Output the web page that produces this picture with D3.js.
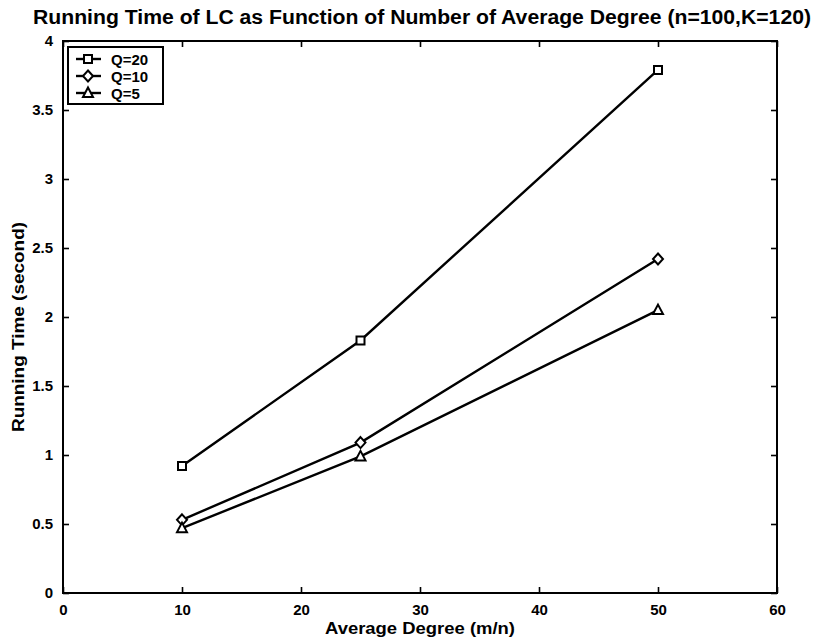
<!DOCTYPE html>
<html>
<head>
<meta charset="utf-8">
<script src="https://cdn.jsdelivr.net/npm/d3@7"></script>
<style>
  body { margin: 0; background: #fff; }
  text { font-family: "Liberation Sans", Arial, sans-serif; font-weight: bold; fill: #000; }
</style>
</head>
<body>
<script>
// average degree (m/n) on the x axis
var degrees = [10, 25, 50];
// running time in seconds for each Q
var timeQ20 = [0.92, 1.83, 3.79];
var timeQ10 = [0.53, 1.09, 2.42];
var timeQ5 = [0.47, 0.99, 2.05];
var seriesNames = ["Q=20", "Q=10", "Q=5"];
var xTicks = [0, 10, 20, 30, 40, 50, 60];
var yTicks = [0, 0.5, 1, 1.5, 2, 2.5, 3, 3.5, 4];

var w = 817, h = 642;
var margin = {left: 63, right: 40, top: 41, bottom: 49};
var pw = w - margin.left - margin.right;
var ph = h - margin.top - margin.bottom;

var series = [
  {name: seriesNames[0], values: timeQ20, marker: "square"},
  {name: seriesNames[1], values: timeQ10, marker: "diamond"},
  {name: seriesNames[2], values: timeQ5, marker: "triangle"}
];

var xScale = d3.scaleLinear().domain([0, 60]).range([0, pw]);
var yScale = d3.scaleLinear().domain([0, 4]).range([ph, 0]);

var svg = d3.select("body").append("svg")
  .attr("width", w)
  .attr("height", h);

svg.append("text")
  .attr("x", 422)
  .attr("y", 24)
  .attr("text-anchor", "middle")
  .attr("font-size", 20)
  .attr("textLength", 778)
  .attr("lengthAdjust", "spacingAndGlyphs")
  .text("Running Time of LC as Function of Number of Average Degree (n=100,K=120)");

var graph = svg.append("g")
  .attr("transform", "translate(" + margin.left + "," + margin.top + ")");

// matlab-style box with inward ticks on all four sides
function styleAxis(g) {
  g.attr("font-size", null).attr("font-family", null);
  g.select(".domain").remove();
  g.selectAll(".tick line").attr("stroke", "#000").attr("stroke-width", 1.6);
  g.selectAll(".tick text").style("font-size", "15px");
}

graph.append("g")
  .attr("transform", "translate(0," + ph + ")")
  .call(d3.axisBottom(xScale).tickValues(xTicks).tickSizeInner(-6).tickSizeOuter(0).tickPadding(11))
  .call(styleAxis);

graph.append("g")
  .call(d3.axisTop(xScale).tickValues(xTicks).tickSizeInner(-6).tickSizeOuter(0).tickFormat(""))
  .call(styleAxis);

graph.append("g")
  .call(d3.axisLeft(yScale).tickValues(yTicks).tickSizeInner(-6).tickSizeOuter(0).tickPadding(10).tickFormat(d3.format("")))
  .call(styleAxis);

graph.append("g")
  .attr("transform", "translate(" + pw + ",0)")
  .call(d3.axisRight(yScale).tickValues(yTicks).tickSizeInner(-6).tickSizeOuter(0).tickFormat(""))
  .call(styleAxis);

graph.append("rect")
  .attr("x", 0).attr("y", 0)
  .attr("width", pw).attr("height", ph)
  .attr("fill", "none")
  .attr("stroke", "#000")
  .attr("stroke-width", 2);

var line = d3.line()
  .x(function(d, i) { return xScale(degrees[i]); })
  .y(function(d) { return yScale(d); });

function markerPath(type) {
  if (type === "square") return "M-4,-4H4V4H-4Z";
  if (type === "diamond") return "M0,-5.5L5,0L0,5.5L-5,0Z";
  return "M0,-5.5L5,4L-5,4Z";
}

series.forEach(function(s) {
  graph.append("path")
    .datum(s.values)
    .attr("d", line)
    .attr("fill", "none")
    .attr("stroke", "#000")
    .attr("stroke-width", 2.4);

  graph.selectAll(null)
    .data(s.values)
    .enter()
    .append("path")
    .attr("transform", function(d, i) { return "translate(" + xScale(degrees[i]) + "," + yScale(d) + ")"; })
    .attr("d", markerPath(s.marker))
    .attr("fill", "#fff")
    .attr("stroke", "#000")
    .attr("stroke-width", 2);
});

// legend
var legend = svg.append("g").attr("transform", "translate(68,47)");
legend.append("rect")
  .attr("width", 95).attr("height", 57)
  .attr("fill", "#fff")
  .attr("stroke", "#000")
  .attr("stroke-width", 2);

series.forEach(function(s, i) {
  var row = legend.append("g").attr("transform", "translate(0," + (12 + i * 17) + ")");
  row.append("line")
    .attr("x1", 8).attr("x2", 33)
    .attr("y1", 0).attr("y2", 0)
    .attr("stroke", "#000").attr("stroke-width", 2.4);
  row.append("path")
    .attr("transform", "translate(20,0)")
    .attr("d", markerPath(s.marker))
    .attr("fill", "#fff")
    .attr("stroke", "#000")
    .attr("stroke-width", 2);
  row.append("text")
    .attr("x", 43).attr("y", 6)
    .attr("font-size", 15)
    .text(s.name);
});

svg.append("text")
  .attr("x", 420)
  .attr("y", 634)
  .attr("text-anchor", "middle")
  .attr("font-size", 17)
  .attr("textLength", 190)
  .attr("lengthAdjust", "spacingAndGlyphs")
  .text("Average Degree (m/n)");

svg.append("text")
  .attr("transform", "translate(24,327) rotate(-90)")
  .attr("text-anchor", "middle")
  .attr("font-size", 17)
  .attr("textLength", 210)
  .attr("lengthAdjust", "spacingAndGlyphs")
  .text("Running Time (second)");
</script>
</body>
</html>
